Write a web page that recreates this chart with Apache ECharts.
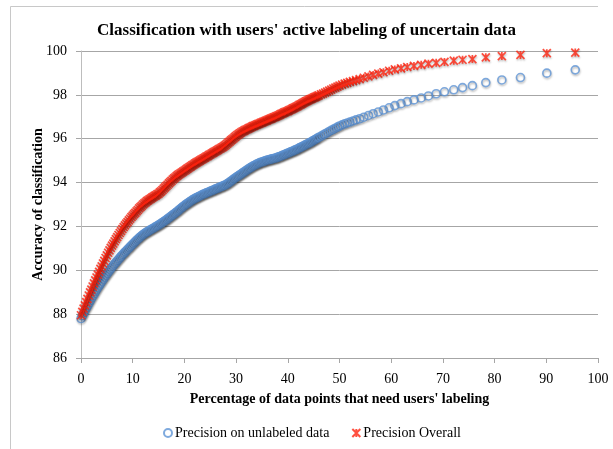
<!DOCTYPE html>
<html>
<head>
<meta charset="utf-8">
<script src="https://cdn.jsdelivr.net/npm/echarts@6/dist/echarts.min.js"></script>
<style>
html,body{margin:0;padding:0;background:#fff;}
#chart{width:613px;height:449px;}
</style>
</head>
<body>
<div id="chart"></div>
<script>
// Percentage of data points that need users' labeling (x)
const pct = [0,0.25,0.5,0.75,1,1.25,1.5,1.75,2,2.25,2.5,2.75,3,3.25,3.5,3.75,4,4.25,4.5,4.75,5,5.25,5.5,5.75,6,6.25,6.5,6.75,7,7.25,7.5,7.75,8,8.25,8.5,8.75,9,9.25,9.5,9.75,10,10.25,10.5,10.75,11,11.25,11.5,11.75,
12,12.25,12.5,12.75,13,13.25,13.5,13.75,14,14.25,14.5,14.75,15,15.25,15.5,15.75,16,16.25,16.5,16.75,17,17.25,17.5,17.75,18,18.25,18.5,18.75,19,19.25,19.5,19.75,20,20.25,20.5,20.75,21,21.25,21.5,21.75,22,22.25,22.5,22.75,23,23.25,23.5,23.75,24,24.25,24.5,24.75,25,25.25,25.5,25.75,26,26.25,26.5,26.75,27,27.25,27.5,27.75,28,28.25,28.5,28.75,29,29.25,29.5,29.75,
30,30.25,30.5,30.75,31,31.25,31.5,31.75,32,32.25,32.5,32.75,33,33.25,33.5,33.75,34,34.25,34.5,34.75,35,35.25,35.5,35.75,36,36.25,36.5,36.75,37,37.25,37.5,37.75,38,38.25,38.5,38.75,39,39.25,39.5,39.75,40,40.25,40.5,40.75,41,41.25,41.5,41.75,42,42.25,42.5,42.75,43,43.25,43.5,43.75,44,44.25,44.5,44.75,45,45.25,45.5,45.75,46,
46.4,46.8,47.2,47.6,48.0,48.4,48.8,49.2,49.6,50.0,50.5,51.0,51.5,52.0,52.6,53.2,53.9,54.7,55.6,56.5,57.5,58.5,59.6,60.7,61.9,63.1,64.4,65.8,67.2,68.7,70.3,72.1,73.8,75.7,78.3,81.4,85.0,90.1,95.6];

// Precision on unlabeled data
const unlabeled = [87.80,87.92,88.03,88.15,88.26,88.37,88.48,88.59,88.70,88.81,88.91,89.01,89.11,89.21,89.30,89.39,89.48,89.57,89.66,89.75,89.83,89.91,89.99,90.07,90.14,90.22,90.29,90.36,90.43,90.50,90.57,90.64,90.70,90.77,90.83,90.89,90.95,91.01,91.07,91.13,91.19,91.25,91.31,91.37,91.42,91.48,91.53,91.58,
91.63,91.67,91.71,91.75,91.78,91.82,91.85,91.89,91.92,91.96,91.99,92.03,92.06,92.10,92.14,92.18,92.22,92.26,92.30,92.35,92.39,92.44,92.48,92.53,92.57,92.62,92.66,92.71,92.76,92.81,92.86,92.91,92.95,93.00,93.04,93.08,93.12,93.16,93.20,93.24,93.27,93.30,93.33,93.36,93.39,93.42,93.45,93.48,93.50,93.53,93.55,93.58,93.60,93.63,93.65,93.68,93.70,93.73,93.75,93.78,93.80,93.83,93.85,93.88,93.90,93.94,93.98,94.02,94.06,94.11,94.15,94.20,
94.24,94.28,94.32,94.36,94.40,94.44,94.48,94.52,94.56,94.60,94.64,94.68,94.71,94.75,94.78,94.81,94.84,94.87,94.90,94.92,94.94,94.96,94.98,95.00,95.02,95.04,95.05,95.07,95.08,95.10,95.11,95.13,95.15,95.17,95.19,95.22,95.24,95.27,95.29,95.32,95.34,95.37,95.39,95.42,95.44,95.47,95.49,95.52,95.55,95.58,95.61,95.64,95.67,95.70,95.73,95.76,95.79,95.82,95.85,95.89,95.92,95.96,95.99,96.03,96.06,
96.11,96.17,96.22,96.27,96.33,96.38,96.43,96.48,96.53,96.58,96.63,96.68,96.72,96.76,96.81,96.86,96.91,96.98,97.06,97.14,97.22,97.31,97.41,97.51,97.60,97.69,97.77,97.86,97.95,98.05,98.14,98.23,98.33,98.42,98.56,98.68,98.79,98.99,99.14];

// Precision Overall
const overall = [87.95,88.10,88.25,88.40,88.55,88.70,88.85,88.99,89.12,89.26,89.40,89.54,89.67,89.80,89.93,90.06,90.18,90.31,90.43,90.56,90.68,90.80,90.91,91.02,91.12,91.22,91.32,91.42,91.51,91.61,91.70,91.79,91.88,91.97,92.05,92.13,92.20,92.28,92.35,92.42,92.49,92.56,92.62,92.69,92.75,92.82,92.88,92.94,
93.00,93.05,93.10,93.15,93.19,93.23,93.27,93.31,93.35,93.39,93.42,93.46,93.50,93.55,93.60,93.66,93.72,93.78,93.84,93.90,93.96,94.02,94.08,94.14,94.19,94.24,94.29,94.34,94.38,94.42,94.46,94.50,94.54,94.58,94.62,94.66,94.70,94.74,94.78,94.82,94.86,94.90,94.93,94.97,95.00,95.04,95.07,95.11,95.14,95.18,95.21,95.25,95.28,95.32,95.35,95.39,95.42,95.46,95.49,95.53,95.56,95.60,95.63,95.67,95.72,95.77,95.82,95.87,95.92,95.97,96.02,96.07,
96.12,96.17,96.21,96.25,96.29,96.33,96.36,96.39,96.42,96.45,96.48,96.51,96.54,96.57,96.59,96.62,96.64,96.67,96.69,96.72,96.74,96.77,96.79,96.82,96.84,96.87,96.89,96.92,96.94,96.97,96.99,97.02,97.04,97.07,97.10,97.13,97.16,97.19,97.21,97.24,97.26,97.29,97.32,97.35,97.38,97.41,97.44,97.47,97.50,97.54,97.57,97.60,97.63,97.67,97.70,97.73,97.76,97.79,97.81,97.84,97.87,97.90,97.92,97.95,97.98,
98.02,98.06,98.10,98.15,98.19,98.24,98.29,98.33,98.38,98.42,98.47,98.51,98.55,98.59,98.63,98.67,98.72,98.78,98.84,98.91,98.97,99.03,99.10,99.16,99.21,99.27,99.32,99.37,99.42,99.46,99.50,99.56,99.60,99.63,99.71,99.77,99.82,99.90,99.93];

const seriesNames = ['Precision on unlabeled data', 'Precision Overall'];
const titleText = "Classification with users' active labeling of uncertain data";
const xName = "Percentage of data points that need users' labeling";
const yName = 'Accuracy of classification';

const serif = '"Liberation Serif", "DejaVu Serif", serif';
const pairs = (ys) => pct.map((x, i) => [x, ys[i]]);

const chart = echarts.init(document.getElementById('chart'), null, {renderer: 'canvas'});
chart.setOption({
  animation: false,
  backgroundColor: '#fff',
  graphic: [
    {type: 'line', shape: {x1: 10.5, y1: 6.5, x2: 598, y2: 6.5}, style: {stroke: '#c8c8c8', lineWidth: 1}, silent: true},
    {type: 'line', shape: {x1: 10.5, y1: 6.5, x2: 10.5, y2: 449}, style: {stroke: '#c8c8c8', lineWidth: 1}, silent: true}
  ],
  title: {
    text: titleText,
    left: 'center',
    top: 17,
    textStyle: {fontFamily: serif, fontWeight: 'bold', fontSize: 17, color: '#000'}
  },
  legend: {
    left: 158,
    top: 421,
    itemWidth: 8,
    itemHeight: 8,
    itemGap: 22,
    textStyle: {fontFamily: serif, fontSize: 14, color: '#000', padding: [0, 0, 0, -2]},
    data: seriesNames
  },
  grid: {left: 81, right: 15, top: 51, bottom: 91, containLabel: false},
  xAxis: {
    type: 'value',
    min: 0, max: 100, interval: 10,
    name: xName,
    nameLocation: 'middle',
    nameGap: 34,
    nameMoveOverlap: false,
    nameTextStyle: {fontFamily: serif, fontWeight: 'bold', fontSize: 14, color: '#000'},
    axisLine: {show: true, lineStyle: {color: '#a6a6a6', width: 1}},
    axisTick: {show: true, length: 5, inside: false, lineStyle: {color: '#a6a6a6'}},
    axisLabel: {fontFamily: serif, fontSize: 14, color: '#000', margin: 14},
    splitLine: {show: false}
  },
  yAxis: {
    type: 'value',
    min: 86, max: 100, interval: 2,
    name: yName,
    nameLocation: 'middle',
    nameRotate: 90,
    nameGap: 36,
    nameMoveOverlap: false,
    nameTextStyle: {fontFamily: serif, fontWeight: 'bold', fontSize: 14, color: '#000'},
    axisLine: {show: true, lineStyle: {color: '#bdbdbd', width: 1}},
    axisTick: {show: true, length: 5, lineStyle: {color: '#a6a6a6'}},
    axisLabel: {fontFamily: serif, fontSize: 14, color: '#000', margin: 14},
    splitLine: {show: true, lineStyle: {color: '#a6a6a6', width: 1}}
  },
  series: [
    {
      name: seriesNames[0],
      type: 'scatter',
      symbol: 'circle',
      symbolSize: 8,
      itemStyle: {
        color: 'rgba(255,255,255,0)',
        borderColor: '#5f95d6',
        borderWidth: 1.6,
        shadowColor: 'rgba(0,0,0,0.35)',
        shadowBlur: 2,
        shadowOffsetX: 0.5,
        shadowOffsetY: 1.5
      },
      data: pairs(unlabeled),
      z: 2
    },
    {
      name: seriesNames[1],
      type: 'scatter',
      symbol: 'path://M0,0L10,10M10,0L0,10M5,0L5,10',
      symbolSize: 8,
      itemStyle: {
        color: 'rgba(255,255,255,0)',
        borderColor: '#ff2410',
        borderWidth: 1.7,
        shadowColor: 'rgba(0,0,0,0.3)',
        shadowBlur: 2,
        shadowOffsetX: 0.5,
        shadowOffsetY: 1.5
      },
      data: pairs(overall),
      z: 3
    }
  ]
});
</script>
</body>
</html>
